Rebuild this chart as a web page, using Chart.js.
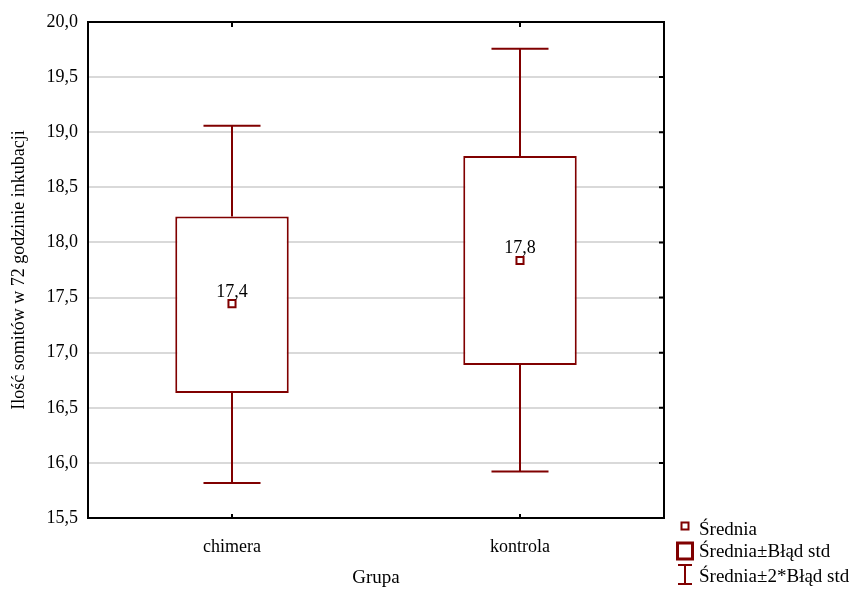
<!DOCTYPE html>
<html>
<head>
<meta charset="utf-8">
<script src="https://cdn.jsdelivr.net/npm/chart.js@4"></script>
<style>
  html, body { margin: 0; padding: 0; background: #fff; }
</style>
</head>
<body>
<canvas id="boxChart" width="855" height="591"></canvas>
<script>
// dane (średnia, ±błąd std, ±2*błąd std)
const groups = ['chimera', 'kontrola']
const means = [17.445, 17.837]
const seLow = [16.633, 16.887]
const seHigh = [18.236, 18.785]
const se2Low = [15.818, 15.921]
const se2High = [19.058, 19.758]
const meanLabels = ['17,4', '17,8']

const RED = '#800000'
const SERIF = "'Liberation Serif', 'Times New Roman', serif"

Chart.defaults.font.family = SERIF
Chart.defaults.color = '#000'

// wąsy ±2*błąd std i etykiety średnich
const whiskers = {
  id: 'whiskers',
  afterDatasetsDraw(chart) {
    const { ctx, scales: { x, y } } = chart
    const capHalf = (x.getPixelForValue(1) - x.getPixelForValue(0)) * 0.099
    ctx.save()
    ctx.strokeStyle = RED
    ctx.lineWidth = 2
    groups.forEach((g, i) => {
      const cx = Math.round(x.getPixelForValue(i))
      const yHi = y.getPixelForValue(se2High[i])
      const yLo = y.getPixelForValue(se2Low[i])
      ctx.beginPath()
      ctx.moveTo(cx, y.getPixelForValue(seHigh[i]))
      ctx.lineTo(cx, yHi)
      ctx.moveTo(cx, y.getPixelForValue(seLow[i]))
      ctx.lineTo(cx, yLo)
      ctx.moveTo(cx - capHalf, yHi)
      ctx.lineTo(cx + capHalf, yHi)
      ctx.moveTo(cx - capHalf, yLo)
      ctx.lineTo(cx + capHalf, yLo)
      ctx.stroke()

      ctx.fillStyle = '#000'
      ctx.font = '18px ' + SERIF
      ctx.textAlign = 'center'
      ctx.textBaseline = 'alphabetic'
      ctx.fillText(meanLabels[i], cx, y.getPixelForValue(means[i]) - 7)
    })
    ctx.restore()
  },
}

// ramka wykresu z kreskami do środka
const frame = {
  id: 'frame',
  afterDraw(chart) {
    const { ctx, chartArea: a, scales: { x, y } } = chart
    ctx.save()
    ctx.strokeStyle = '#000'
    ctx.lineWidth = 2
    ctx.strokeRect(a.left, a.top, a.right - a.left, a.bottom - a.top)
    ctx.beginPath()
    y.ticks.forEach((t) => {
      const py = y.getPixelForValue(t.value)
      ctx.moveTo(a.right, py)
      ctx.lineTo(a.right - 5, py)
    })
    groups.forEach((g, i) => {
      const px = x.getPixelForValue(i)
      ctx.moveTo(px, a.top)
      ctx.lineTo(px, a.top + 5)
      ctx.moveTo(px, a.bottom)
      ctx.lineTo(px, a.bottom - 4)
    })
    ctx.stroke()
    ctx.restore()
  },
}

// legenda w prawym dolnym rogu
const legendBox = {
  id: 'legendBox',
  afterDraw(chart) {
    const { ctx, chartArea: a } = chart
    const mx = a.right + 21
    const tx = a.right + 35
    const b = a.bottom
    ctx.save()
    ctx.strokeStyle = RED
    ctx.fillStyle = '#fff'
    ctx.lineWidth = 2
    ctx.fillRect(mx - 3.5, b + 4.5, 7, 7)
    ctx.strokeRect(mx - 3.5, b + 4.5, 7, 7)
    ctx.lineWidth = 3
    ctx.strokeRect(mx - 7.5, b + 25, 15, 16)
    ctx.lineWidth = 2
    ctx.beginPath()
    ctx.moveTo(mx, b + 47)
    ctx.lineTo(mx, b + 66)
    ctx.moveTo(mx - 7, b + 47)
    ctx.lineTo(mx + 7, b + 47)
    ctx.moveTo(mx - 7, b + 66)
    ctx.lineTo(mx + 7, b + 66)
    ctx.stroke()

    ctx.fillStyle = '#000'
    ctx.font = '19px ' + SERIF
    ctx.textAlign = 'left'
    ctx.textBaseline = 'alphabetic'
    ctx.fillText('Średnia', tx, b + 17)
    ctx.fillText('Średnia±Błąd std', tx, b + 39)
    ctx.fillText('Średnia±2*Błąd std', tx, b + 64)
    ctx.restore()
  },
}

const ctx = document.getElementById('boxChart').getContext('2d')

new Chart(ctx, {
  type: 'bar',
  data: {
    labels: groups,
    datasets: [
      {
        label: 'Średnia±Błąd std',
        data: groups.map((g, i) => [seLow[i], seHigh[i]]),
        backgroundColor: '#fff',
        borderColor: RED,
        borderWidth: 2,
        borderSkipped: false,
        barPercentage: 0.394,
        categoryPercentage: 1,
        order: 2,
      },
      {
        type: 'line',
        label: 'Średnia',
        data: means,
        showLine: false,
        pointStyle: 'rect',
        pointRadius: 5,
        pointHoverRadius: 5,
        pointBackgroundColor: '#fff',
        pointBorderColor: RED,
        pointBorderWidth: 2,
        order: 1,
      },
    ],
  },
  options: {
    responsive: false,
    animation: false,
    layout: {
      padding: { top: 22, right: 191, left: 0, bottom: 0 },
    },
    plugins: {
      legend: { display: false },
      tooltip: { enabled: false },
    },
    scales: {
      x: {
        offset: true,
        grid: { display: false },
        border: { display: true, color: '#000', width: 2 },
        ticks: { font: { size: 18 }, color: '#000', padding: 10 },
        title: {
          display: true,
          text: 'Grupa',
          font: { size: 19 },
          color: '#000',
          padding: { top: 0, bottom: 2 },
        },
        afterFit: function (scale) {
          scale.height = 73
        },
      },
      y: {
        min: 15.5,
        max: 20,
        grid: { color: '#d9d9d9', lineWidth: 2, drawTicks: false },
        border: { display: true, color: '#000', width: 2 },
        ticks: {
          stepSize: 0.5,
          font: { size: 18 },
          color: '#000',
          padding: 10,
          callback: function (value) {
            return value.toFixed(1).replace('.', ',')
          },
        },
        title: {
          display: true,
          text: 'Ilość somitów w 72 godzinie inkubacji',
          font: { size: 18 },
          color: '#000',
          padding: { top: 8, bottom: 0 },
        },
        afterFit: function (scale) {
          scale.width = 88
        },
      },
    },
  },
  plugins: [whiskers, frame, legendBox],
})
</script>
</body>
</html>
